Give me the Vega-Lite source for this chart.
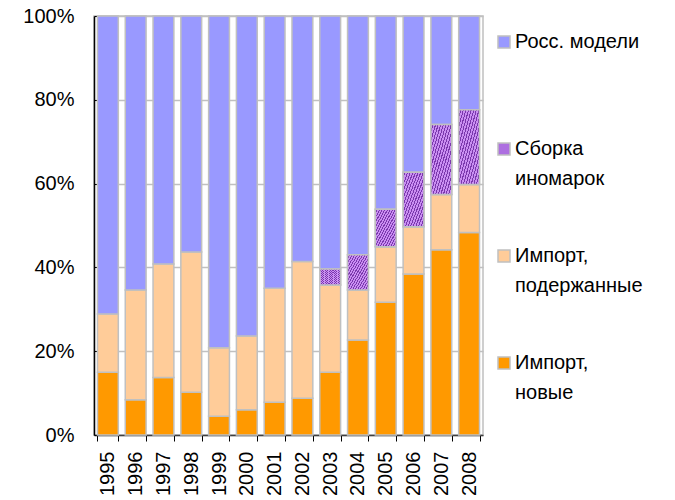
{
  "$schema": "https://vega.github.io/schema/vega-lite/v6.json",
  "width": 389,
  "height": 419,
  "autosize": {"type": "none"},
  "padding": {"left": 94, "top": 16, "right": 192, "bottom": 65},
  "background": "white",
  "config": {
    "font": "Liberation Sans",
    "view": {"stroke": "#c0c0c0", "strokeWidth": 1.5},
    "style": {"guide-label": {"lineHeight": 30}},
    "axis": {"labelFont": "Liberation Sans", "labelFontSize": 20, "labelColor": "#000000"},
    "legend": {"labelFont": "Liberation Sans", "labelFontSize": 20, "labelColor": "#000000"}
  },
  "data": {
    "values": [
      {"year": "1995", "series": "Импорт, новые", "order": 1, "value": 15.0},
      {"year": "1995", "series": "Импорт, подержанные", "order": 2, "value": 13.9},
      {"year": "1995", "series": "Росс. модели", "order": 4, "value": 71.1},
      {"year": "1996", "series": "Импорт, новые", "order": 1, "value": 8.4},
      {"year": "1996", "series": "Импорт, подержанные", "order": 2, "value": 26.2},
      {"year": "1996", "series": "Росс. модели", "order": 4, "value": 65.4},
      {"year": "1997", "series": "Импорт, новые", "order": 1, "value": 13.7},
      {"year": "1997", "series": "Импорт, подержанные", "order": 2, "value": 27.1},
      {"year": "1997", "series": "Росс. модели", "order": 4, "value": 59.2},
      {"year": "1998", "series": "Импорт, новые", "order": 1, "value": 10.2},
      {"year": "1998", "series": "Импорт, подержанные", "order": 2, "value": 33.5},
      {"year": "1998", "series": "Росс. модели", "order": 4, "value": 56.3},
      {"year": "1999", "series": "Импорт, новые", "order": 1, "value": 4.5},
      {"year": "1999", "series": "Импорт, подержанные", "order": 2, "value": 16.3},
      {"year": "1999", "series": "Росс. модели", "order": 4, "value": 79.2},
      {"year": "2000", "series": "Импорт, новые", "order": 1, "value": 6.0},
      {"year": "2000", "series": "Импорт, подержанные", "order": 2, "value": 17.6},
      {"year": "2000", "series": "Росс. модели", "order": 4, "value": 76.4},
      {"year": "2001", "series": "Импорт, новые", "order": 1, "value": 7.8},
      {"year": "2001", "series": "Импорт, подержанные", "order": 2, "value": 27.2},
      {"year": "2001", "series": "Росс. модели", "order": 4, "value": 65.0},
      {"year": "2002", "series": "Импорт, новые", "order": 1, "value": 8.8},
      {"year": "2002", "series": "Импорт, подержанные", "order": 2, "value": 32.6},
      {"year": "2002", "series": "Росс. модели", "order": 4, "value": 58.6},
      {"year": "2003", "series": "Импорт, новые", "order": 1, "value": 15.0},
      {"year": "2003", "series": "Импорт, подержанные", "order": 2, "value": 20.8},
      {"year": "2003", "series": "Сборка иномарок", "order": 3, "value": 3.8},
      {"year": "2003", "series": "Росс. модели", "order": 4, "value": 60.4},
      {"year": "2004", "series": "Импорт, новые", "order": 1, "value": 22.7},
      {"year": "2004", "series": "Импорт, подержанные", "order": 2, "value": 11.9},
      {"year": "2004", "series": "Сборка иномарок", "order": 3, "value": 8.4},
      {"year": "2004", "series": "Росс. модели", "order": 4, "value": 57.0},
      {"year": "2005", "series": "Импорт, новые", "order": 1, "value": 31.7},
      {"year": "2005", "series": "Импорт, подержанные", "order": 2, "value": 13.2},
      {"year": "2005", "series": "Сборка иномарок", "order": 3, "value": 9.0},
      {"year": "2005", "series": "Росс. модели", "order": 4, "value": 46.1},
      {"year": "2006", "series": "Импорт, новые", "order": 1, "value": 38.4},
      {"year": "2006", "series": "Импорт, подержанные", "order": 2, "value": 11.3},
      {"year": "2006", "series": "Сборка иномарок", "order": 3, "value": 13.0},
      {"year": "2006", "series": "Росс. модели", "order": 4, "value": 37.3},
      {"year": "2007", "series": "Импорт, новые", "order": 1, "value": 44.2},
      {"year": "2007", "series": "Импорт, подержанные", "order": 2, "value": 13.2},
      {"year": "2007", "series": "Сборка иномарок", "order": 3, "value": 16.7},
      {"year": "2007", "series": "Росс. модели", "order": 4, "value": 25.9},
      {"year": "2008", "series": "Импорт, новые", "order": 1, "value": 48.3},
      {"year": "2008", "series": "Импорт, подержанные", "order": 2, "value": 11.5},
      {"year": "2008", "series": "Сборка иномарок", "order": 3, "value": 17.8},
      {"year": "2008", "series": "Росс. модели", "order": 4, "value": 22.4}
    ]
  },
  "transform": [
    {"stack": "value", "groupby": ["year"], "sort": [{"field": "order", "order": "ascending"}], "as": ["v0", "v1"], "offset": "normalize"}
  ],
  "encoding": {
    "x": {
      "field": "year", "type": "ordinal", "title": null,
      "scale": {"paddingInner": 0.25, "paddingOuter": 0.125},
      "axis": {"labelAngle": 270, "labelPadding": 10, "labelBaseline": "middle", "tickBand": "extent", "tickSize": 6, "tickColor": "#000000", "domainColor": "#404040", "domainWidth": 1.5, "grid": false}
    },
    "y": {
      "field": "v0", "type": "quantitative", "title": null,
      "scale": {"domain": [0, 1], "nice": false},
      "axis": {"format": ".0%", "values": [0, 0.2, 0.4, 0.6, 0.8, 1], "tickSize": -5, "tickColor": "#000000", "domainColor": "#000000", "domainWidth": 1.5, "labelPadding": 25, "gridColor": "#c0c0c0", "gridWidth": 1.5}
    },
    "y2": {"field": "v1"}
  },
  "layer": [
    {
      "mark": {"type": "bar", "stroke": "#c0c0c0", "strokeWidth": 1.5},
      "encoding": {
        "color": {
          "field": "series", "type": "nominal",
          "scale": {
            "domain": ["Росс. модели", "Сборка иномарок", "Импорт, подержанные", "Импорт, новые"],
            "range": ["#9999ff", "#ad6fe0", "#ffcc99", "#ff9900"]
          },
          "legend": {
            "title": null, "orient": "none", "legendX": 400, "legendY": 16,
            "symbolType": "square", "symbolSize": 144, "symbolStrokeColor": "#c0c0c0", "symbolStrokeWidth": 1.5,
            "labelBaseline": "middle", "labelOffset": 1, "rowPadding": 57, "padding": 0, "labelLimit": 200,
            "labelExpr": "datum.label == 'Росс. модели' ? ['Росс. модели', ''] : datum.label == 'Сборка иномарок' ? ['Сборка', 'иномарок'] : datum.label == 'Импорт, подержанные' ? ['Импорт,', 'подержанные'] : ['Импорт,', 'новые']"
          }
        }
      }
    },
    {
      "transform": [{"filter": "datum.series == 'Сборка иномарок'"}],
      "mark": {
        "type": "bar", "stroke": "#c0c0c0", "strokeWidth": 1.5,
        "fill": {
          "gradient": "linear", "x1": 0, "y1": 0, "x2": 1, "y2": 1,
          "stops": [
            {"offset": 0, "color": "#c98ff2"}, {"offset": 0.0375, "color": "#c98ff2"}, {"offset": 0.0375, "color": "#7a38ad"}, {"offset": 0.0625, "color": "#7a38ad"},
            {"offset": 0.0625, "color": "#c98ff2"}, {"offset": 0.1, "color": "#c98ff2"}, {"offset": 0.1, "color": "#7a38ad"}, {"offset": 0.125, "color": "#7a38ad"},
            {"offset": 0.125, "color": "#c98ff2"}, {"offset": 0.1625, "color": "#c98ff2"}, {"offset": 0.1625, "color": "#7a38ad"}, {"offset": 0.1875, "color": "#7a38ad"},
            {"offset": 0.1875, "color": "#c98ff2"}, {"offset": 0.225, "color": "#c98ff2"}, {"offset": 0.225, "color": "#7a38ad"}, {"offset": 0.25, "color": "#7a38ad"},
            {"offset": 0.25, "color": "#c98ff2"}, {"offset": 0.2875, "color": "#c98ff2"}, {"offset": 0.2875, "color": "#7a38ad"}, {"offset": 0.3125, "color": "#7a38ad"},
            {"offset": 0.3125, "color": "#c98ff2"}, {"offset": 0.35, "color": "#c98ff2"}, {"offset": 0.35, "color": "#7a38ad"}, {"offset": 0.375, "color": "#7a38ad"},
            {"offset": 0.375, "color": "#c98ff2"}, {"offset": 0.4125, "color": "#c98ff2"}, {"offset": 0.4125, "color": "#7a38ad"}, {"offset": 0.4375, "color": "#7a38ad"},
            {"offset": 0.4375, "color": "#c98ff2"}, {"offset": 0.475, "color": "#c98ff2"}, {"offset": 0.475, "color": "#7a38ad"}, {"offset": 0.5, "color": "#7a38ad"},
            {"offset": 0.5, "color": "#c98ff2"}, {"offset": 0.5375, "color": "#c98ff2"}, {"offset": 0.5375, "color": "#7a38ad"}, {"offset": 0.5625, "color": "#7a38ad"},
            {"offset": 0.5625, "color": "#c98ff2"}, {"offset": 0.6, "color": "#c98ff2"}, {"offset": 0.6, "color": "#7a38ad"}, {"offset": 0.625, "color": "#7a38ad"},
            {"offset": 0.625, "color": "#c98ff2"}, {"offset": 0.6625, "color": "#c98ff2"}, {"offset": 0.6625, "color": "#7a38ad"}, {"offset": 0.6875, "color": "#7a38ad"},
            {"offset": 0.6875, "color": "#c98ff2"}, {"offset": 0.725, "color": "#c98ff2"}, {"offset": 0.725, "color": "#7a38ad"}, {"offset": 0.75, "color": "#7a38ad"},
            {"offset": 0.75, "color": "#c98ff2"}, {"offset": 0.7875, "color": "#c98ff2"}, {"offset": 0.7875, "color": "#7a38ad"}, {"offset": 0.8125, "color": "#7a38ad"},
            {"offset": 0.8125, "color": "#c98ff2"}, {"offset": 0.85, "color": "#c98ff2"}, {"offset": 0.85, "color": "#7a38ad"}, {"offset": 0.875, "color": "#7a38ad"},
            {"offset": 0.875, "color": "#c98ff2"}, {"offset": 0.9125, "color": "#c98ff2"}, {"offset": 0.9125, "color": "#7a38ad"}, {"offset": 0.9375, "color": "#7a38ad"},
            {"offset": 0.9375, "color": "#c98ff2"}, {"offset": 0.975, "color": "#c98ff2"}, {"offset": 0.975, "color": "#7a38ad"}, {"offset": 1, "color": "#7a38ad"}
          ]
        }
      }
    }
  ]
}
